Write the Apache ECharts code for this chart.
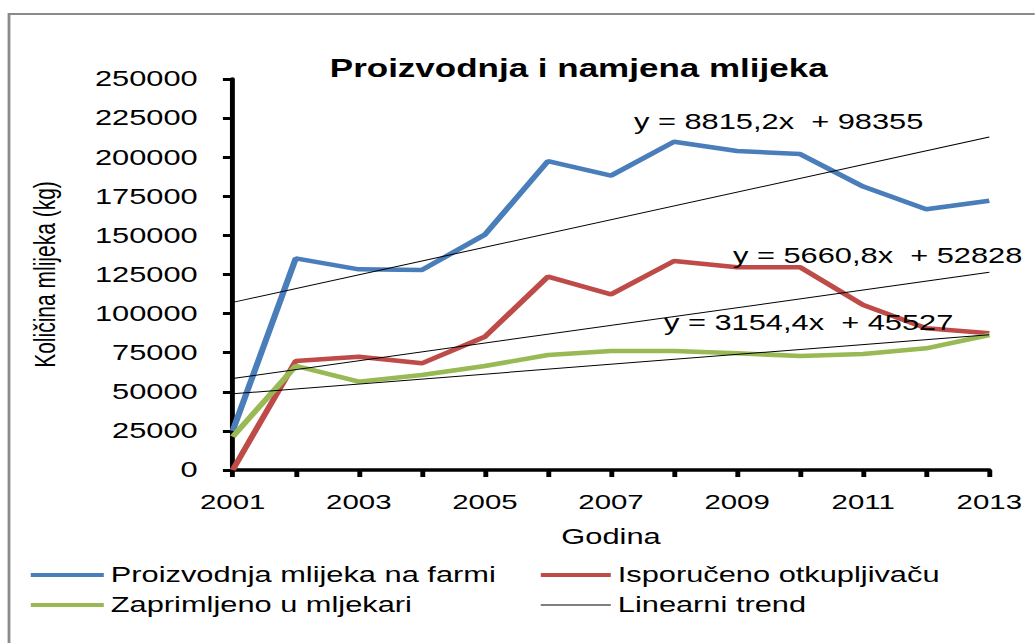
<!DOCTYPE html>
<html>
<head>
<meta charset="utf-8">
<script src="https://cdn.jsdelivr.net/npm/echarts@6/dist/echarts.min.js"></script>
<style>
  html, body { margin: 0; padding: 0; background: #fff; overflow: hidden; }
  #wrap { width: 1035px; height: 643px; overflow: hidden; }
  #c { height: 643px; transform-origin: 0 0; }
</style>
</head>
<body>
<div id="wrap"><div id="c"></div></div>
<script>
// ---- data ----
const years = [2001, 2002, 2003, 2004, 2005, 2006, 2007, 2008, 2009, 2010, 2011, 2012, 2013];
const production = [25000, 135300, 128300, 127900, 150500, 197500, 188200, 209900, 204000, 202000, 181200, 166700, 172200];
const delivered  = [0, 69700, 72400, 68200, 85200, 123600, 112300, 133600, 129600, 129600, 105500, 90600, 87400];
const received   = [21300, 66500, 56500, 60700, 66500, 73500, 76100, 76100, 74600, 72900, 74200, 77800, 86300];
const trendYears = [2001, 2013];
const trendProduction = [107170, 212950];
const trendDelivered  = [58490, 126420];
const trendReceived   = [48680, 86530];
const equations = ['y = 8815,2x  + 98355', 'y = 5660,8x  + 52828', 'y = 3154,4x  + 45527'];
const seriesNames = ['Proizvodnja mlijeka na farmi', 'Isporučeno otkupljivaču', 'Zaprimljeno u mljekari', 'Linearni trend'];
const titleText = 'Proizvodnja i namjena mlijeka';
const xName = 'Godina';
const yName = 'Količina mlijeka (kg)';

// The reference is a horizontally stretched picture; draw unstretched and stretch.
const S = 1.4;
const W = 1035 / S;
const el = document.getElementById('c');
el.style.width = W + 'px';
el.style.transform = 'scaleX(' + S + ')';

const font = "'Liberation Sans', Arial, sans-serif";
const pair = (xs, ys) => xs.map((x, i) => [x, ys[i]]);
const X = v => v / S; // reference pixel x -> unstretched x

const legendBase = {
  orient: 'vertical', top: 564, itemGap: 8, padding: 0,
  itemHeight: 14,
  itemStyle: { opacity: 0 },
  textStyle: { fontSize: 22, color: '#000', fontFamily: font }
};
const thick = { width: 4 };
const thin = { width: 1 };

const chart = echarts.init(el, null, { renderer: 'svg' });
chart.setOption({
  animation: false,
  backgroundColor: '#fff',
  textStyle: { fontFamily: font, color: '#000' },
  title: {
    text: titleText,
    left: X(572) - 178, top: 50,
    textStyle: { fontSize: 25, fontWeight: 'bold', color: '#000', fontFamily: font }
  },
  grid: { left: X(232.7), width: X(989.3) - X(232.7), top: 79, height: 391, containLabel: false },
  xAxis: {
    type: 'value', min: 2001, max: 2013, interval: 1,
    name: xName, nameLocation: 'middle', nameGap: 56,
    nameTextStyle: { fontSize: 22, color: '#000', fontFamily: font },
    axisLine: { lineStyle: { color: '#000', width: 3.5 } },
    axisTick: { length: 7, lineStyle: { color: '#000', width: 3.5 } },
    axisLabel: { margin: 21, fontSize: 21, color: '#000', fontFamily: font,
      formatter: v => (v % 2 === 1 ? String(v) : '') },
    splitLine: { show: false }
  },
  yAxis: {
    type: 'value', min: 0, max: 250000, interval: 25000,
    name: yName, nameLocation: 'middle', nameGap: 124, nameRotate: 90,
    nameTextStyle: { fontSize: 21, color: '#000', fontFamily: font },
    axisLine: { show: true, lineStyle: { color: '#000', width: 3.5 } },
    axisTick: { show: true, length: 7, lineStyle: { color: '#000', width: 3 } },
    axisLabel: { margin: 25, fontSize: 22, color: '#000', fontFamily: font,
      formatter: v => String(v) },
    splitLine: { show: false }
  },
  legend: [
    Object.assign({}, legendBase, {
      left: X(28), itemWidth: X(103) - X(30),
      data: [
        { name: seriesNames[0], lineStyle: thick },
        { name: seriesNames[2], lineStyle: thick }
      ]
    }),
    Object.assign({}, legendBase, {
      left: X(538), itemWidth: X(610) - X(540),
      data: [
        { name: seriesNames[1], lineStyle: thick },
        { name: seriesNames[3], lineStyle: thin }
      ]
    })
  ],
  series: [
    { name: seriesNames[0], type: 'line', data: pair(years, production), symbol: 'none',
      lineStyle: { color: '#4A7EBB', width: 4.5 }, itemStyle: { color: '#4A7EBB' } },
    { name: seriesNames[1], type: 'line', data: pair(years, delivered), symbol: 'none',
      lineStyle: { color: '#BE4B48', width: 4.5 }, itemStyle: { color: '#BE4B48' } },
    { name: seriesNames[2], type: 'line', data: pair(years, received), symbol: 'none',
      lineStyle: { color: '#98B954', width: 4.5 }, itemStyle: { color: '#98B954' } },
    { name: seriesNames[3], type: 'line', data: pair(trendYears, trendProduction), symbol: 'none',
      lineStyle: { color: '#000', width: 1 }, itemStyle: { color: '#000' }, z: 5 },
    { name: seriesNames[3], type: 'line', data: pair(trendYears, trendDelivered), symbol: 'none',
      lineStyle: { color: '#000', width: 1 }, itemStyle: { color: '#000' }, z: 5 },
    { name: seriesNames[3], type: 'line', data: pair(trendYears, trendReceived), symbol: 'none',
      lineStyle: { color: '#000', width: 1 }, itemStyle: { color: '#000' }, z: 5 }
  ],
  graphic: [
    { type: 'rect', z: 100, silent: true,
      shape: { x: X(9), y: 14, width: 2000, height: 2000 },
      style: { fill: 'none', stroke: '#8a8a8a', lineWidth: 2 } },
    { type: 'text', z: 100, x: X(634), y: 122,
      style: { text: equations[0], font: '22px ' + font, fill: '#000', verticalAlign: 'middle' } },
    { type: 'text', z: 100, x: X(733), y: 256,
      style: { text: equations[1], font: '22px ' + font, fill: '#000', verticalAlign: 'middle' } },
    { type: 'text', z: 100, x: X(664), y: 323,
      style: { text: equations[2], font: '22px ' + font, fill: '#000', verticalAlign: 'middle' } }
  ]
});
</script>
</body>
</html>
